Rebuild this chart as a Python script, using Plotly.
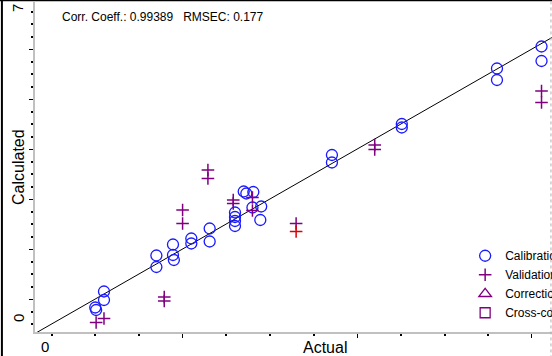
import plotly.graph_objects as go

# ---- data ----
cal_x = [1.00, 1.01, 1.10, 1.10, 1.70, 1.70, 1.89, 1.89, 1.90, 2.10, 2.10, 2.31, 2.31,
         2.60, 2.60, 2.60, 2.60, 2.70, 2.73, 2.81, 2.80, 2.90, 2.89, 3.71, 3.71,
         4.51, 4.51, 5.60, 5.60, 6.11, 6.11]
cal_y = [0.83, 0.78, 1.15, 0.98, 1.87, 1.64, 2.09, 1.88, 1.78, 2.21, 2.11, 2.41, 2.15,
         2.73, 2.64, 2.56, 2.46, 3.15, 3.11, 3.14, 2.83, 2.85, 2.58, 3.88, 3.73,
         4.50, 4.43, 5.61, 5.38, 6.05, 5.76]

val_x = [1.01, 1.10, 1.79, 1.79, 2.00, 2.00, 2.29, 2.29, 2.58, 2.58, 2.80, 2.80,
         3.30, 3.30, 4.20, 4.20, 6.11, 6.11]
val_y = [0.53, 0.61, 1.04, 0.96, 2.78, 2.51, 3.58, 3.41, 2.98, 2.91, 3.03, 2.77,
         2.51, 2.35, 4.08, 3.99, 5.16, 4.93]
val_colors = ["#800080"] * 13 + ["#e00000"] + ["#800080"] * 4

target_line = [0, 7]          # y = x reference line

legend_names = ["Calibration", "Validation", "Correction", "Cross-correlation"]
stats_text = "Corr. Coeff.: 0.99389   RMSEC: 0.177"
x_title = "Actual"
y_title = "Calculated"
y_min_label, y_max_label, x_min_label = "0", "7", "0"

x_range = [0.31, 6.23]
y_range = [0.34, 6.94]

FONT = "Liberation Sans, Arial, sans-serif"
BLUE = "#1a1aff"
PURPLE = "#800080"

fig = go.Figure()

fig.add_trace(go.Scatter(x=target_line, y=target_line, mode="lines",
                         line=dict(color="black", width=1), showlegend=False,
                         hoverinfo="skip"))

fig.add_trace(go.Scatter(x=cal_x, y=cal_y, mode="markers", name=legend_names[0],
                         marker=dict(symbol="circle-open", size=11, color=BLUE,
                                     line=dict(width=1.3, color=BLUE))))

fig.add_trace(go.Scatter(x=val_x, y=val_y, mode="markers", name=legend_names[1],
                         marker=dict(symbol="cross-thin-open", size=9, color=val_colors,
                                     line=dict(width=1.5, color=val_colors))))

fig.add_trace(go.Scatter(x=[None], y=[None], mode="markers", name=legend_names[2],
                         marker=dict(symbol="triangle-up-open", size=11, color=PURPLE,
                                     line=dict(width=1.3, color=PURPLE))))

fig.add_trace(go.Scatter(x=[None], y=[None], mode="markers", name=legend_names[3],
                         marker=dict(symbol="square-open", size=10, color=PURPLE,
                                     line=dict(width=1.3, color=PURPLE))))

axis_common = dict(showgrid=False, zeroline=False, showline=True, linecolor="#c0c0c0",
                   linewidth=2, ticks="outside", tickcolor="black", tickwidth=1,
                   ticklen=4, showticklabels=False)

fig.update_xaxes(range=x_range, tick0=0, dtick=2,
                 minor=dict(tick0=0, dtick=0.5, ticks="outside", ticklen=2,
                            tickcolor="black", tickwidth=2),
                 **axis_common)
fig.update_yaxes(range=y_range, tick0=0, dtick=1,
                 minor=dict(tick0=0, dtick=0.25, ticks="outside", ticklen=2,
                            tickcolor="black", tickwidth=2),
                 **axis_common)

annotations = [
    dict(text=stats_text, xref="paper", yref="paper", x=0.049, y=0.955,
         xanchor="left", yanchor="middle", showarrow=False,
         font=dict(size=12, color="black", family=FONT)),
    dict(text=x_title, xref="paper", yref="paper", x=0.561, y=-0.048,
         xanchor="center", yanchor="middle", showarrow=False,
         font=dict(size=16, color="black", family=FONT)),
    dict(text=y_title, xref="paper", yref="paper", x=-0.033, y=0.50,
         xanchor="center", yanchor="middle", showarrow=False, textangle=-90,
         font=dict(size=16, color="black", family=FONT)),
    dict(text=y_max_label, xref="paper", yref="paper", x=-0.033, y=0.982,
         xanchor="center", yanchor="middle", showarrow=False, textangle=-90,
         font=dict(size=15, color="black", family=FONT)),
    dict(text=y_min_label, xref="paper", yref="paper", x=-0.033, y=0.042,
         xanchor="center", yanchor="middle", showarrow=False, textangle=-90,
         font=dict(size=15, color="black", family=FONT)),
    dict(text=x_min_label, xref="paper", yref="paper", x=0.019, y=-0.045,
         xanchor="center", yanchor="middle", showarrow=False,
         font=dict(size=15, color="black", family=FONT)),
]

shapes = [
    dict(type="line", xref="paper", yref="paper", x0=-0.064, x1=-0.064, y0=-0.08, y1=1.01,
         line=dict(color="black", width=2)),
    dict(type="line", xref="paper", yref="paper", x0=-0.07, x1=1.0, y0=1.005, y1=1.005,
         line=dict(color="black", width=2)),
    dict(type="line", xref="paper", yref="paper", x0=0.998, x1=0.998, y0=-0.08, y1=1.01,
         line=dict(color="#b0b0b0", width=1, dash="dot")),
]

fig.update_layout(
    width=552, height=356,
    margin=dict(l=35, r=0, t=2, b=24, autoexpand=False),
    paper_bgcolor="white", plot_bgcolor="white",
    font=dict(family=FONT, size=12, color="black"),
    showlegend=True,
    legend=dict(x=0.832, y=0.275, xanchor="left", yanchor="top",
                bgcolor="rgba(0,0,0,0)", borderwidth=0,
                font=dict(size=12, family=FONT, color="black"),
                itemwidth=30, tracegroupgap=0),
    annotations=annotations,
    shapes=shapes,
)

fig.write_html("out.html", config={"displayModeBar": False},
               post_script="document.body.style.margin='0';document.body.style.overflow='hidden';")
